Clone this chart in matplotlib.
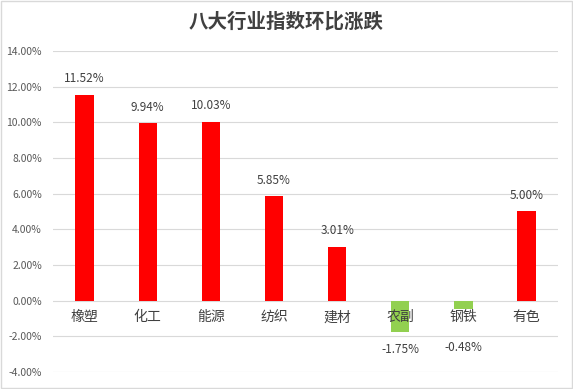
import matplotlib.pyplot as plt

plt.rcParams['font.family'] = ['Noto Sans CJK SC', 'DejaVu Sans']

categories = ['橡塑', '化工', '能源', '纺织', '建材', '农副', '钢铁', '有色']
values = [11.52, 9.94, 10.03, 5.85, 3.01, -1.75, -0.48, 5.00]
yticks = [-4, -2, 0, 2, 4, 6, 8, 10, 12, 14]

fig = plt.figure(figsize=(5.73, 3.89), dpi=100)
ax = fig.add_axes([0.0925, 0.0437, 0.8815, 0.8253])

colors = ['#FF0000' if v >= 0 else '#92D050' for v in values]
x = range(len(categories))
ax.bar(x, values, width=0.29, color=colors, zorder=3)

ax.set_ylim(-4, 14)
ax.set_xlim(-0.5, len(categories) - 0.5)
ax.set_yticks(yticks)
ax.set_yticklabels(['%.2f%%' % t for t in yticks], fontsize=7.5, color='#595959')
ax.set_xticks([])
ax.grid(axis='y', color='#D9D9D9', linewidth=0.8, zorder=0)
ax.tick_params(axis='y', length=0, pad=8)
for s in ax.spines.values():
    s.set_visible(False)

for i, (c, v) in enumerate(zip(categories, values)):
    ax.annotate(c, (i, 0), xytext=(0, -7), textcoords='offset points',
                ha='center', va='top', fontsize=10, color='#404040', zorder=4)
    if v >= 0:
        ax.annotate('%.2f%%' % v, (i, v), xytext=(0, 7), textcoords='offset points',
                    ha='center', va='bottom', fontsize=8.5, color='#404040')
    else:
        # Excel pushes the label below the category text
        ax.text(i, min(v - 1.0, -2.65), '%.2f%%' % v, ha='center', va='center',
                fontsize=8.5, color='#404040')

fig.text(0.5, 0.945, '八大行业指数环比涨跌', ha='center', va='center',
         fontsize=14, fontweight='bold', color='#404040')

border = plt.Rectangle((0.002, 0.002), 0.996, 0.996, transform=fig.transFigure,
                       fill=False, edgecolor='#D9D9D9', linewidth=1)
fig.patches.append(border)

fig.savefig('out.png', dpi=100)
